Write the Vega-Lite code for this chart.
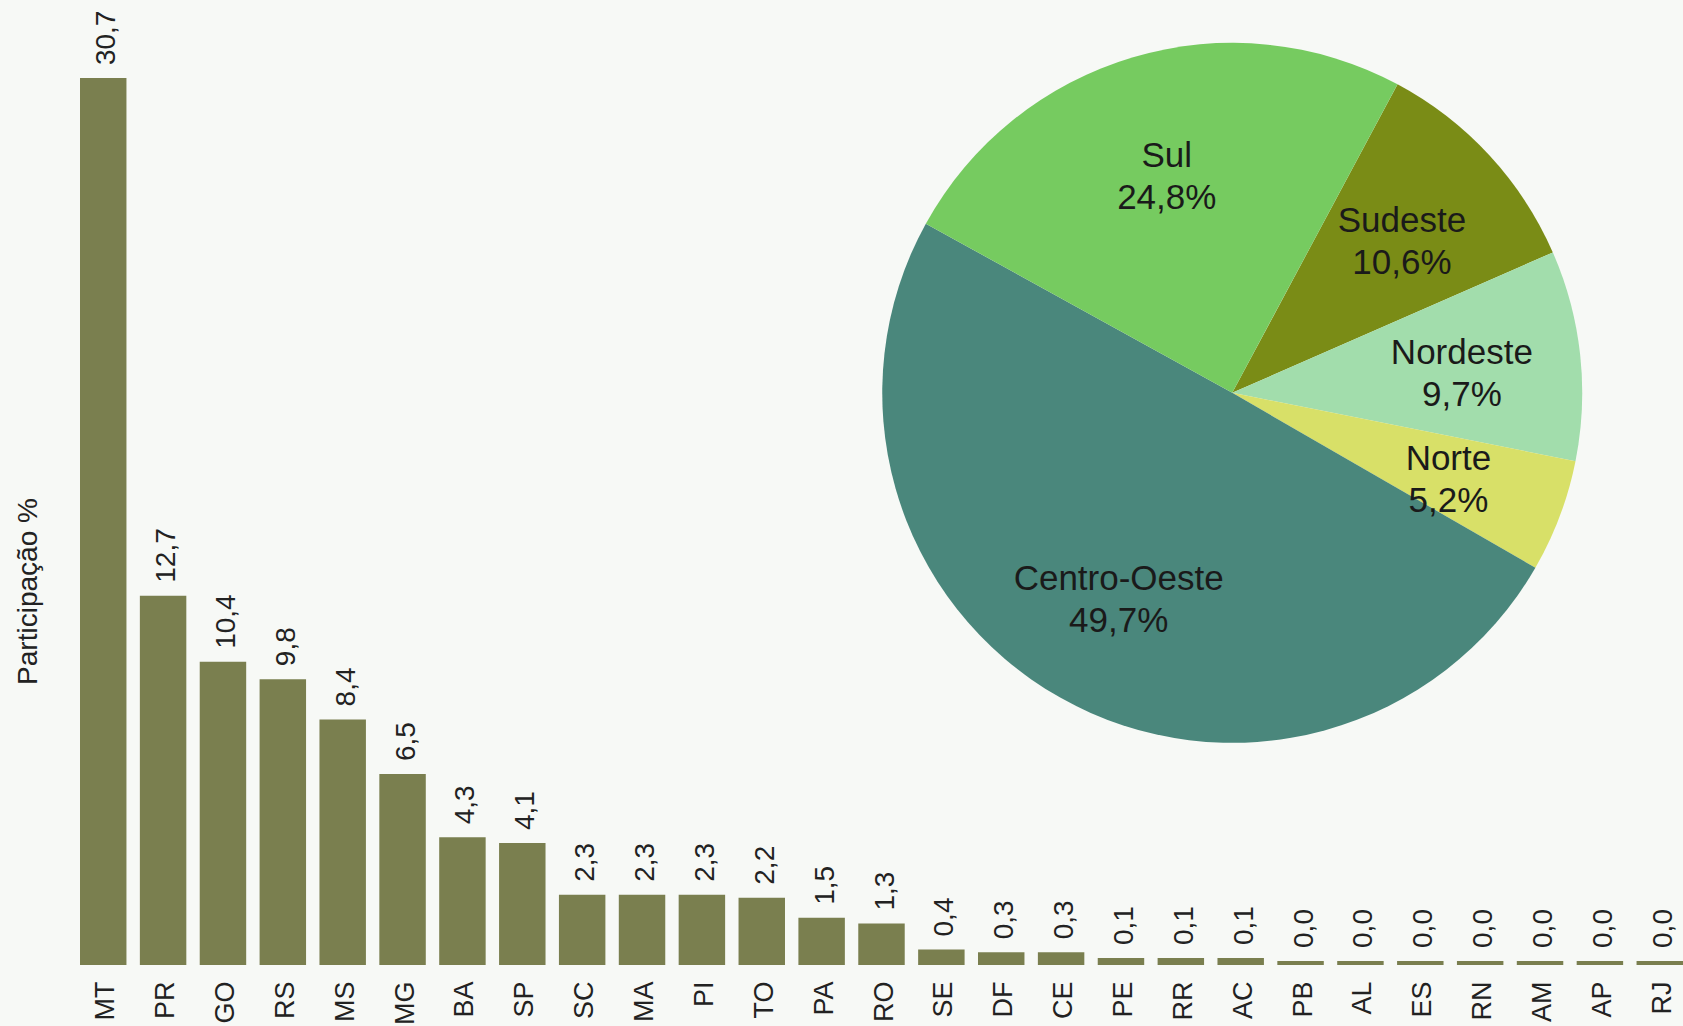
{
  "$schema": "https://vega.github.io/schema/vega-lite/v6.json",
  "width": 1603,
  "height": 960,
  "autosize": {"type": "none"},
  "padding": {"left": 80, "top": 5, "right": 0, "bottom": 61},
  "background": "#f7f9f6",
  "config": {
    "view": {"stroke": null},
    "font": "Liberation Sans",
    "locale": {"number": {"decimal": ",", "thousands": ".", "grouping": [3], "currency": ["R$", ""]}}
  },
  "layer": [
    {
      "data": {
        "values": [
          {"uf": "MT", "participacao": 30.7},
          {"uf": "PR", "participacao": 12.7},
          {"uf": "GO", "participacao": 10.4},
          {"uf": "RS", "participacao": 9.8},
          {"uf": "MS", "participacao": 8.4},
          {"uf": "MG", "participacao": 6.5},
          {"uf": "BA", "participacao": 4.3},
          {"uf": "SP", "participacao": 4.1},
          {"uf": "SC", "participacao": 2.3},
          {"uf": "MA", "participacao": 2.3},
          {"uf": "PI", "participacao": 2.3},
          {"uf": "TO", "participacao": 2.2},
          {"uf": "PA", "participacao": 1.5},
          {"uf": "RO", "participacao": 1.3},
          {"uf": "SE", "participacao": 0.4},
          {"uf": "DF", "participacao": 0.3},
          {"uf": "CE", "participacao": 0.3},
          {"uf": "PE", "participacao": 0.1},
          {"uf": "RR", "participacao": 0.1},
          {"uf": "AC", "participacao": 0.1},
          {"uf": "PB", "participacao": 0.0},
          {"uf": "AL", "participacao": 0.0},
          {"uf": "ES", "participacao": 0.0},
          {"uf": "RN", "participacao": 0.0},
          {"uf": "AM", "participacao": 0.0},
          {"uf": "AP", "participacao": 0.0},
          {"uf": "RJ", "participacao": 0.0}
        ]
      },
      "encoding": {
        "x": {
          "field": "uf",
          "type": "nominal",
          "sort": null,
          "scale": {"paddingInner": 0.224, "paddingOuter": 0},
          "axis": {
            "title": null,
            "labelAngle": -90,
            "labelFontSize": 27,
            "labelColor": "#222222",
            "labelPadding": 16,
            "labelOffset": 3,
            "ticks": false,
            "tickSize": 0,
            "domain": false,
            "grid": false
          }
        },
        "y": {
          "field": "participacao",
          "type": "quantitative",
          "scale": {"domain": [-0.14, 33.24], "nice": false, "zero": false},
          "axis": {
            "title": "Participação %",
            "titleFontSize": 28,
            "titleFontWeight": "normal",
            "titleColor": "#222222",
            "titleAngle": 270,
            "titleAlign": "center",
            "titleBaseline": "middle",
            "titleX": -52,
            "titleY": 586,
            "labels": false,
            "ticks": false,
            "domain": false,
            "grid": false
          }
        }
      },
      "layer": [
        {
          "mark": {"type": "bar", "color": "#7a7f4f"},
          "encoding": {"y2": {"datum": -0.14}}
        },
        {
          "mark": {"type": "text", "angle": 270, "align": "left", "baseline": "middle", "dx": 13, "dy": 4, "fontSize": 28, "color": "#222222"},
          "encoding": {"text": {"field": "participacao", "type": "quantitative", "format": ".1f"}}
        }
      ]
    },
    {
      "data": {
        "values": [
          {"regiao": "Sudeste", "participacao": 0.106, "ordem": 1},
          {"regiao": "Nordeste", "participacao": 0.097, "ordem": 2},
          {"regiao": "Norte", "participacao": 0.052, "ordem": 3},
          {"regiao": "Centro-Oeste", "participacao": 0.497, "ordem": 4},
          {"regiao": "Sul", "participacao": 0.248, "ordem": 5}
        ]
      },
      "encoding": {
        "x": {"datum": 0.7188, "type": "quantitative", "scale": {"domain": [0, 1], "nice": false, "zero": false}, "axis": null},
        "y": {"datum": 0.596, "type": "quantitative", "scale": {"domain": [0, 1], "nice": false, "zero": false}, "axis": null},
        "theta": {"field": "participacao", "type": "quantitative", "stack": true, "scale": {"range": [0.492, 6.775]}},
        "order": {"field": "ordem", "type": "quantitative"}
      },
      "layer": [
        {
          "mark": {"type": "arc", "outerRadius": 350},
          "encoding": {
            "color": {
              "field": "regiao",
              "type": "nominal",
              "scale": {
                "domain": ["Sudeste", "Nordeste", "Norte", "Centro-Oeste", "Sul"],
                "range": ["#7a8c16", "#a2ddac", "#d8e068", "#4a877c", "#76cb60"]
              },
              "legend": null
            }
          }
        },
        {
          "mark": {"type": "text", "radius": 231, "dy": -15, "fontSize": 35, "color": "#1a1a1a"},
          "encoding": {
            "text": {"field": "regiao", "type": "nominal"},
            "detail": {"field": "regiao", "type": "nominal"}
          }
        },
        {
          "mark": {"type": "text", "radius": 231, "dy": 27, "fontSize": 35, "color": "#1a1a1a"},
          "encoding": {
            "text": {"field": "participacao", "type": "quantitative", "format": ".1%"},
            "detail": {"field": "regiao", "type": "nominal"}
          }
        }
      ]
    }
  ],
  "resolve": {"scale": {"x": "independent", "y": "independent"}}
}
